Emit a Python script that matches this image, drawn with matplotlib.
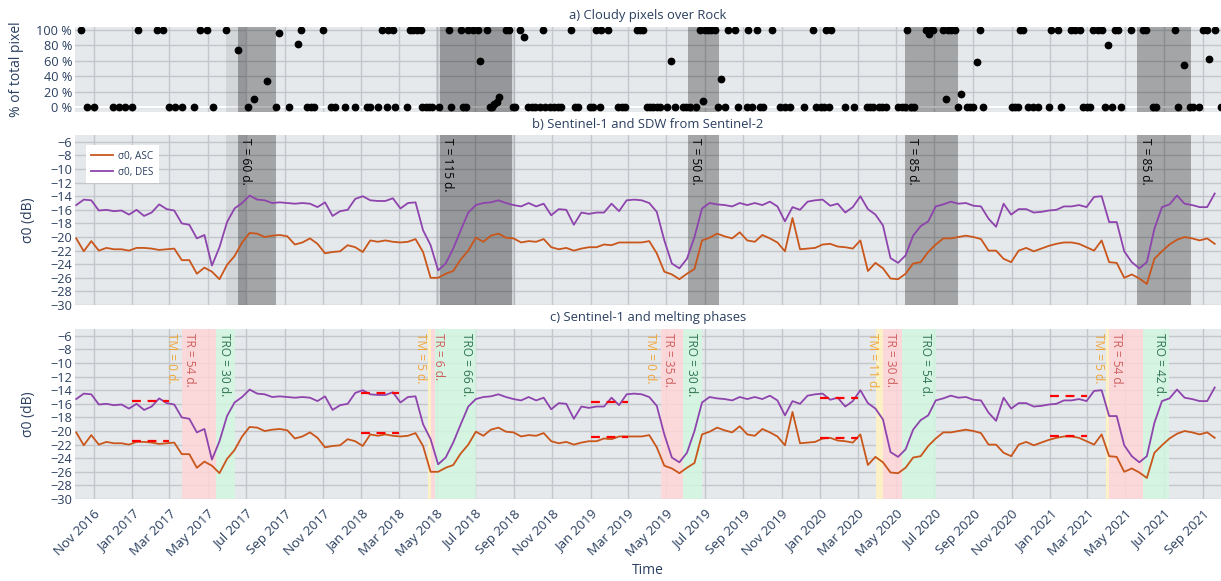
import pandas as pd
import matplotlib.pyplot as plt
import matplotlib.dates as mdates

plt.rcParams['font.family'] = ['Open Sans', 'DejaVu Sans']

t0 = pd.Timestamp('2016-10-01')

# Sentinel-1 backscatter over rock, one value every 12 days
s1_first = '2016-10-04'
sigma_asc = [
    -20.2, -22.1, -20.6, -22.0, -21.6, -21.8, -21.8, -22.0, -21.6, -21.6,
    -21.7, -21.9, -21.8, -21.7, -23.4, -23.4, -25.4, -24.5, -25.1, -26.2,
    -24.1, -22.8, -20.8, -19.4, -19.5, -20.0, -19.8, -19.7, -19.9, -21.1,
    -20.8, -20.2, -21.0, -22.4, -22.2, -22.1, -21.2, -21.5, -22.2, -20.5,
    -20.7, -20.5, -20.7, -20.8, -20.7, -20.3, -22.2, -26.0, -26.0, -25.4,
    -25.0, -23.3, -22.0, -20.1, -20.7, -19.8, -19.5, -20.1, -20.2, -20.8,
    -20.6, -20.7, -20.3, -21.5, -21.8, -21.6, -22.0, -21.7, -21.5, -21.5,
    -21.1, -21.2, -20.8, -20.8, -20.8, -20.8, -20.6, -22.4, -25.1, -25.5,
    -26.2, -25.4, -24.7, -20.5, -20.1, -19.5, -19.9, -20.2, -19.3, -20.5,
    -20.7, -19.7, -20.2, -20.8, -22.1, -17.2, -21.8, -21.7, -21.6, -21.1,
    -21.0, -21.4, -21.5, -21.7, -20.5, -25.0, -23.8, -24.6, -26.1, -26.2,
    -25.4, -23.9, -23.7, -22.2, -21.1, -20.2, -20.2, -20.0, -19.8, -20.0,
    -20.3, -22.0, -22.0, -23.2, -23.7, -22.0, -21.6, -22.1, -21.7, -21.3,
    -21.0, -20.8, -20.8, -21.0, -21.5, -22.0, -20.5, -23.7, -23.8, -26.0,
    -25.5, -26.1, -26.9, -23.2, -22.1, -21.1, -20.4, -20.0, -20.2, -20.5,
    -20.2, -21.0,
]
sigma_des = [
    -15.3, -14.5, -14.6, -16.1, -16.0, -16.2, -16.1, -16.7, -16.0, -16.9,
    -16.4, -15.2, -15.9, -16.1, -18.0, -18.2, -20.2, -19.7, -24.2, -21.5,
    -17.8, -15.8, -15.0, -13.9, -14.5, -14.6, -15.0, -14.9, -15.0, -15.1,
    -15.0, -15.1, -15.6, -14.9, -16.9, -16.2, -16.0, -14.4, -14.0, -14.6,
    -14.7, -14.7, -14.3, -15.8, -15.0, -14.9, -19.0, -21.2, -24.9, -23.9,
    -21.7, -19.0, -16.4, -15.3, -15.0, -14.9, -14.6, -15.0, -15.3, -15.5,
    -15.0, -15.5, -15.1, -16.8, -15.9, -16.0, -18.2, -16.4, -16.6, -16.4,
    -16.4, -15.1, -16.2, -14.6, -14.5, -14.6, -15.0, -16.3, -20.5, -23.9,
    -24.6, -23.2, -20.0, -15.8, -15.0, -15.2, -15.3, -15.5, -15.0, -15.3,
    -15.0, -15.3, -14.8, -15.5, -17.7, -15.6, -16.0, -14.8, -14.6, -14.5,
    -15.4, -15.1, -16.4, -15.6, -14.0, -15.9, -16.7, -18.3, -23.1, -23.8,
    -22.7, -19.8, -18.4, -17.7, -15.5, -15.2, -14.8, -15.1, -15.0, -15.4,
    -15.5, -17.3, -18.5, -15.1, -16.7, -15.9, -15.9, -16.4, -16.3, -16.1,
    -16.0, -15.5, -15.5, -15.3, -15.6, -14.1, -14.0, -17.8, -17.8, -22.1,
    -23.7, -24.6, -23.7, -18.8, -15.6, -15.2, -13.9, -15.1, -15.3, -15.6,
    -15.6, -13.6,
]

# Sentinel-2 cloudy pixels: days after t0 and share of pixels (%)
cloud_day = [
    10, 20, 31, 61, 71, 81, 91, 101, 131, 141, 151, 161, 171, 191, 200, 211,
    221, 241, 261, 276, 286, 306, 321, 326, 341, 356, 361, 371, 376, 381, 395,
    409, 415, 430, 446, 465, 470, 484, 490, 497, 499, 507, 511, 530, 534, 539,
    545, 551, 554, 559, 565, 570, 581, 597, 600, 616, 619, 624, 627, 635, 643,
    645, 657, 661, 664, 668, 672, 676, 687, 692, 698, 701, 710, 715, 722, 728,
    733, 741, 746, 749, 757, 763, 770, 775, 791, 797, 802, 820, 826, 831, 836,
    839, 850, 866, 871, 876, 895, 900, 905, 911, 916, 921, 927, 932, 943, 950,
    956, 968, 973, 980, 989, 996, 1001, 1004, 1009, 1014, 1019, 1025, 1030,
    1035, 1041, 1051, 1057, 1070, 1072, 1078, 1086, 1091, 1096, 1111, 1123,
    1131, 1139, 1161, 1176, 1181, 1188, 1193, 1196, 1201, 1205, 1226, 1241,
    1261, 1266, 1271, 1281, 1286, 1292, 1311, 1317, 1322, 1326, 1331, 1336,
    1355, 1360, 1363, 1367, 1382, 1387, 1391, 1396, 1401, 1407, 1411, 1420,
    1425, 1431, 1436, 1441, 1446, 1492, 1497, 1502, 1505, 1510, 1518, 1526,
    1534, 1551, 1555, 1566, 1571, 1587, 1592, 1600, 1606, 1611, 1616, 1622,
    1630, 1635, 1640, 1645, 1651, 1656, 1661, 1666, 1681, 1701, 1706, 1716,
    1721, 1752, 1756, 1766, 1775, 1781, 1790, 1797, 1802, 1806, 1815, 1825,
]
cloud_pct = [
    100, 0, 0, 0, 0, 0, 0, 100, 100, 100, 0, 0, 0, 0, 100, 100,
    0, 100, 74, 0, 10, 34, 0, 96, 0, 82, 100, 0, 0, 0, 100,
    0, 0, 0, 0, 0, 0, 0, 100, 0, 100, 100, 0, 0, 100, 100,
    100, 100, 0, 0, 0, 0, 0, 100, 0, 100, 0, 0, 100, 100, 100,
    60, 100, 0, 0, 4, 7, 13, 100, 100, 0, 0, 100, 91, 0, 0,
    0, 0, 100, 0, 0, 0, 0, 0, 100, 0, 0, 0, 0, 100, 0,
    100, 100, 0, 0, 0, 100, 100, 100, 0, 0, 0, 0, 0, 0, 60,
    0, 0, 0, 0, 0, 100, 8, 100, 100, 100, 100, 0, 37,
    0, 100, 100, 0, 0, 100, 0, 100, 0, 0, 100, 0,
    0, 0, 0, 100, 0, 0, 0, 100, 0, 100, 0, 0,
    0, 0, 0, 0, 0, 0, 0, 0, 0, 100, 0, 0,
    100, 95, 100, 100, 100, 10, 100, 100, 100, 0, 17, 0,
    0, 0, 58, 100, 0, 0, 0, 0, 100, 100, 0, 0,
    0, 0, 100, 100, 0, 100, 100, 100, 0, 0, 0, 100,
    100, 100, 0, 80, 0, 100, 100, 0, 100, 100, 100, 0,
    0, 100, 0, 54, 0, 0, 0, 100, 100, 63, 100, 0,
]

# snow duration windows from Sentinel-2 (start day after t0, length T)
sdw_start = [261, 582, 976, 1322, 1692]
sdw_len = [60, 115, 50, 85, 85]
cloud_gap_start = [241, 575]
cloud_gap_end = [273, 701]

# melting phases: start of TM (day after t0), then TM, TR, TRO lengths
tm_start = [171, 563, 934, 1276, 1642]
tm_len = [0, 5, 0, 11, 5]
tr_len = [54, 6, 35, 30, 54]
tro_len = [30, 66, 30, 54, 42]

# winter reference level (Jan - Feb)
ref_year = [2017, 2018, 2019, 2020, 2021]
ref_asc = [-21.5, -20.3, -20.85, -21.0, -20.7]
ref_des = [-15.65, -14.4, -15.75, -15.2, -14.9]

BG = '#e6e9ec'
GRID = '#c3c7cb'
TXT = '#2a3f5f'
C_ASC = '#c9561b'
C_DES = '#8e44ad'


def day(d):
    return t0 + pd.Timedelta(days=d)


s1_dates = pd.date_range(s1_first, periods=len(sigma_asc), freq='12D')
cloud_dates = t0 + pd.to_timedelta(cloud_day, unit='D')

fig = plt.figure(figsize=(12.21, 5.81), dpi=100)
ax_a = fig.add_axes([0.0614, 0.8077, 0.9386, 0.1463])
ax_b = fig.add_axes([0.0614, 0.4750, 0.9386, 0.2926], sharex=ax_a)
ax_c = fig.add_axes([0.0614, 0.1411, 0.9386, 0.2926], sharex=ax_a)

for ax in (ax_a, ax_b, ax_c):
    ax.set_facecolor(BG)
    ax.grid(True, color=GRID, lw=1)
    ax.set_axisbelow(True)
    for s in ax.spines.values():
        s.set_visible(False)
    ax.tick_params(length=0, labelsize=9.2, labelcolor=TXT, pad=2)

# a) cloud cover
ax_a.axhline(0, color='white', lw=1.5, zorder=0.6)
for s, e in zip(cloud_gap_start, cloud_gap_end):
    ax_a.axvspan(day(s), day(e), color='black', alpha=0.08, lw=0, zorder=0.8)
for s, n in zip(sdw_start, sdw_len):
    ax_a.axvspan(day(s), day(s + n), color='black', alpha=0.29, lw=0, zorder=0.8)
ax_a.scatter(cloud_dates, cloud_pct, s=21, color='black', zorder=3)
ax_a.set_ylim(-6.1, 104.3)
ax_a.set_yticks([0, 20, 40, 60, 80, 100])
ax_a.set_yticklabels([f'{v} %' for v in [0, 20, 40, 60, 80, 100]])
ax_a.set_ylabel('% of total pixel', fontsize=10, color=TXT)
ax_a.yaxis.set_label_coords(-0.0445, 0.5)

# b) backscatter with snow duration windows
for s, e in zip(cloud_gap_start, cloud_gap_end):
    ax_b.axvspan(day(s), day(e), color='black', alpha=0.08, lw=0, zorder=0.8)
for s, n in zip(sdw_start, sdw_len):
    ax_b.axvspan(day(s), day(s + n), color='black', alpha=0.29, lw=0, zorder=0.8)
    ax_b.annotate(f'T = {n} d.', xy=(day(s), 1), xycoords=('data', 'axes fraction'),
                  xytext=(5.5, -2), textcoords='offset points', rotation=-90,
                  ha='center', va='top', fontsize=8.6, color='black')
ax_b.plot(s1_dates, sigma_asc, color=C_ASC, lw=1.3, label='σ0, ASC', zorder=3)
ax_b.plot(s1_dates, sigma_des, color=C_DES, lw=1.3, label='σ0, DES', zorder=3)
leg = ax_b.legend(loc='upper left', bbox_to_anchor=(0.0096, 0.941), frameon=True,
                  fancybox=False, framealpha=1, edgecolor='white', fontsize=7.2,
                  handlelength=2.2, borderpad=0.55, labelspacing=0.5,
                  handletextpad=0.5, borderaxespad=0, labelcolor=TXT)
leg.get_frame().set_linewidth(0)

# c) backscatter with melting phases
for s, a, r, o in zip(tm_start, tm_len, tr_len, tro_len):
    tm_end = s + a
    tr_end = tm_end + r
    tro_end = tr_end + o
    if a > 0:
        ax_c.axvspan(day(s), day(tm_end), color='#fff3c2', alpha=0.9, lw=0, zorder=0.8)
    ax_c.axvspan(day(tm_end), day(tr_end), color='#ffd6d6', alpha=0.85, lw=0, zorder=0.8)
    ax_c.axvspan(day(tr_end), day(tro_end), color='#d2f7e0', alpha=0.85, lw=0, zorder=0.8)
    kw = dict(xycoords=('data', 'axes fraction'), textcoords='offset points',
              rotation=-90, ha='center', va='top', fontsize=8.6)
    ax_c.annotate(f'TM = {a} d.', xy=(day(tm_end), 1), xytext=(-7.5, -3),
                  color='#f0a535', **kw)
    ax_c.annotate(f'TR = {r} d.', xy=(day(tm_end), 1), xytext=(5.5, -3),
                  color='#cf5e5e', **kw)
    ax_c.annotate(f'TRO = {o} d.', xy=(day(tro_end), 1), xytext=(-7.5, -3),
                  color='#2f7550', **kw)

ax_c.plot(s1_dates, sigma_asc, color=C_ASC, lw=1.3, zorder=3)
ax_c.plot(s1_dates, sigma_des, color=C_DES, lw=1.3, zorder=3)
for y, va, vd in zip(ref_year, ref_asc, ref_des):
    x0 = pd.Timestamp(f'{y}-01-01')
    x1 = pd.Timestamp(f'{y}-03-01')
    ax_c.hlines([va, vd], x0, x1, colors='red', linestyles=(0, (4, 3)), lw=1.6, zorder=4)

for ax in (ax_b, ax_c):
    ax.set_ylim(-30, -5)
    ax.set_yticks(range(-30, -5, 2))
    ax.set_ylabel('σ0 (dB)', fontsize=10, color=TXT)
    ax.yaxis.set_label_coords(-0.034, 0.5)

ax_c.set_xlim(pd.Timestamp('2016-10-02'), pd.Timestamp('2021-09-30'))
ax_c.xaxis.set_major_locator(mdates.MonthLocator(bymonth=[1, 3, 5, 7, 9, 11]))
ax_c.xaxis.set_major_formatter(mdates.DateFormatter('%b %Y'))
ax_a.tick_params(labelbottom=False)
ax_b.tick_params(labelbottom=False)
ax_c.tick_params(axis='x', pad=6, labelsize=9.6)
plt.setp(ax_c.get_xticklabels(), rotation=45, ha='right', va='top',
         rotation_mode='anchor')

fig.text(0.5307, 1 - 16 / 581, 'a) Cloudy pixels over Rock', ha='center', va='center',
         fontsize=9.4, color=TXT)
fig.text(0.5307, 1 - 124 / 581, 'b) Sentinel-1 and SDW from Sentinel-2', ha='center',
         va='center', fontsize=9.4, color=TXT)
fig.text(0.5307, 1 - 318 / 581, 'c) Sentinel-1 and melting phases', ha='center',
         va='center', fontsize=9.4, color=TXT)
fig.text(0.5307, 1 - 571 / 581, 'Time', ha='center', va='center', fontsize=10, color=TXT)

fig.savefig('out.png', dpi=100)
